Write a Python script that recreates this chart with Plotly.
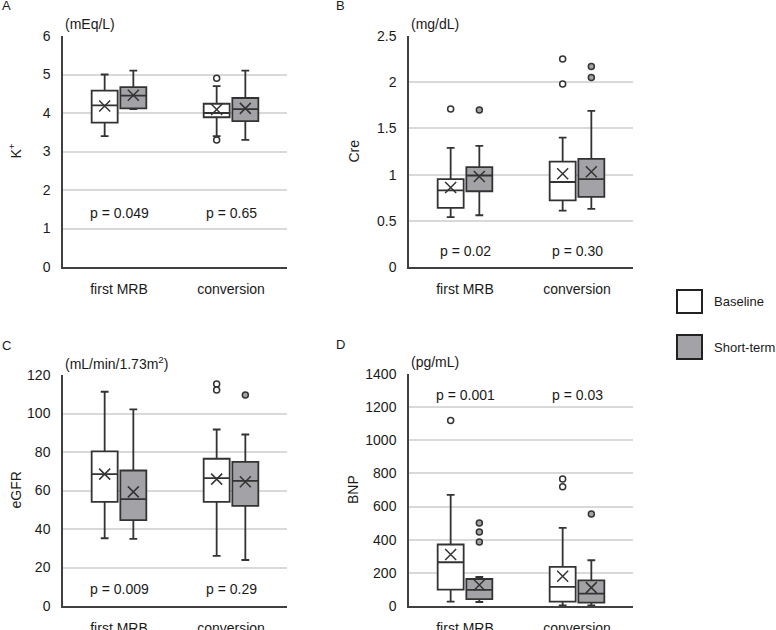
import plotly.graph_objects as go

categories = ["first MRB", "conversion"]
groups = ["Baseline", "Short-term"]

# ---- Panel A: K+ (rows = groups [Baseline, Short-term], cols = categories)
k_lower  = [[3.40, 3.40], [4.10, 3.30]]
k_q1     = [[3.75, 3.89], [4.12, 3.79]]
k_median = [[4.20, 4.00], [4.45, 4.10]]
k_q3     = [[4.58, 4.24], [4.67, 4.39]]
k_upper  = [[5.00, 4.70], [5.10, 5.10]]
k_mean   = [[4.18, 4.09], [4.46, 4.12]]
k_outliers = [[[], [4.9, 3.3]], [[], []]]
k_p = ["p = 0.049", "p = 0.65"]
k_p_y = 1.39

# ---- Panel B: Cre
cre_lower  = [[0.54, 0.61], [0.56, 0.63]]
cre_q1     = [[0.64, 0.72], [0.82, 0.76]]
cre_median = [[0.83, 0.92], [0.99, 0.95]]
cre_q3     = [[0.95, 1.14], [1.08, 1.17]]
cre_upper  = [[1.29, 1.40], [1.31, 1.69]]
cre_mean   = [[0.86, 1.01], [0.98, 1.03]]
cre_outliers = [[[1.71], [2.25, 1.98]], [[1.70], [2.17, 2.05]]]
cre_p = ["p = 0.02", "p = 0.30"]
cre_p_y = 0.17

# ---- Panel C: eGFR
egfr_lower  = [[35.2, 26.0], [34.9, 23.9]]
egfr_q1     = [[54.1, 54.1], [44.6, 52.0]]
egfr_median = [[68.5, 66.4], [55.5, 65.0]]
egfr_q3     = [[80.3, 76.5], [70.4, 74.9]]
egfr_upper  = [[111.3, 91.7], [102.1, 89.1]]
egfr_mean   = [[68.5, 65.9], [59.3, 64.5]]
egfr_outliers = [[[], [115.3, 112.2]], [[], [109.6]]]
egfr_p = ["p = 0.009", "p = 0.29"]
egfr_p_y = 9

# ---- Panel D: BNP
bnp_lower  = [[26, 4], [24, 4]]
bnp_q1     = [[99, 26], [42, 20]]
bnp_median = [[264, 115], [97, 75]]
bnp_q3     = [[371, 236], [163, 155]]
bnp_upper  = [[670, 472], [175, 276]]
bnp_mean   = [[311, 180], [127, 111]]
bnp_outliers = [[[1120], [767, 720]], [[501, 447, 386], [555]]]
bnp_p = ["p = 0.001", "p = 0.03"]
bnp_p_y = 1275

FONT = "Arial, Liberation Sans, sans-serif"
TXT = "#1a1a1a"
EDGE = "#333333"
FILLS = ["#ffffff", "#a3a3a7"]
GRID = "#d9d9d9"
OFFSET = 0.128
BOXW = 0.232

W, H = 776, 630

panels = [
    dict(letter="A", unit="(mEq/L)", title="K<sup>+</sup>", rng=[0, 6], dtick=1,
         lower=k_lower, q1=k_q1, med=k_median, q3=k_q3, upper=k_upper, mean=k_mean,
         out=k_outliers, p=k_p, py=k_p_y, px=(63, 287), py_px=(36, 267)),
    dict(letter="B", unit="(mg/dL)", title="Cre", rng=[0, 2.5], dtick=0.5,
         lower=cre_lower, q1=cre_q1, med=cre_median, q3=cre_q3, upper=cre_upper, mean=cre_mean,
         out=cre_outliers, p=cre_p, py=cre_p_y, px=(409, 633), py_px=(36, 267)),
    dict(letter="C", unit="(mL/min/1.73m<sup>2</sup>)", title="eGFR", rng=[0, 120], dtick=20,
         lower=egfr_lower, q1=egfr_q1, med=egfr_median, q3=egfr_q3, upper=egfr_upper, mean=egfr_mean,
         out=egfr_outliers, p=egfr_p, py=egfr_p_y, px=(63, 287), py_px=(375, 606)),
    dict(letter="D", unit="(pg/mL)", title="BNP", rng=[0, 1400], dtick=200,
         lower=bnp_lower, q1=bnp_q1, med=bnp_median, q3=bnp_q3, upper=bnp_upper, mean=bnp_mean,
         out=bnp_outliers, p=bnp_p, py=bnp_p_y, px=(409, 633), py_px=(374, 606)),
]

fig = go.Figure()
annotations = []
shapes = []
layout_axes = {}

for i, pn in enumerate(panels):
    n = "" if i == 0 else str(i + 1)
    xa, ya = "x" + n, "y" + n
    cat_idx = list(range(len(categories)))
    for g in range(2):
        sign = -1 if g == 0 else 1
        xs = [c + sign * OFFSET for c in cat_idx]
        fig.add_trace(go.Box(
            x=xs, q1=pn["q1"][g], median=pn["med"][g], q3=pn["q3"][g],
            lowerfence=pn["lower"][g], upperfence=pn["upper"][g],
            width=BOXW, whiskerwidth=0.3, boxpoints=False,
            fillcolor=FILLS[g], line=dict(color=EDGE, width=1.8),
            name=groups[g], showlegend=False, hoverinfo="skip",
            xaxis=xa, yaxis=ya))
        fig.add_trace(go.Scatter(
            x=xs, y=pn["mean"][g], mode="markers",
            marker=dict(symbol="x-thin", size=11, line=dict(color=EDGE, width=1.5)),
            showlegend=False, hoverinfo="skip", xaxis=xa, yaxis=ya))
        ox, oy = [], []
        for c in cat_idx:
            for v in pn["out"][g][c]:
                ox.append(c + sign * OFFSET)
                oy.append(v)
        if ox:
            fig.add_trace(go.Scatter(
                x=ox, y=oy, mode="markers",
                marker=dict(symbol="circle", size=6, color=FILLS[g],
                            line=dict(color=EDGE, width=1.5)),
                showlegend=False, hoverinfo="skip", xaxis=xa, yaxis=ya))
    # p-values
    for c in cat_idx:
        annotations.append(dict(x=c, y=pn["py"], xref=xa, yref=ya, text=pn["p"][c],
                                showarrow=False, font=dict(size=14, color=TXT, family=FONT)))
    x0, x1 = pn["px"]
    y0, y1 = pn["py_px"]
    layout_axes["xaxis" + n] = dict(
        domain=[x0 / W, x1 / W], range=[-0.5, 1.5], tickvals=cat_idx, ticktext=categories,
        showgrid=False, zeroline=False, showline=True, linecolor="#404040", linewidth=1.5,
        ticks="", ticklabelstandoff=8, tickfont=dict(size=14, color=TXT, family=FONT),
        anchor=ya, fixedrange=True, automargin=False)
    layout_axes["yaxis" + n] = dict(
        domain=[(H - y1) / H, (H - y0) / H], range=pn["rng"], dtick=pn["dtick"],
        showgrid=True, gridcolor=GRID, gridwidth=1.5, zeroline=False,
        showline=True, linecolor="#404040", linewidth=1.5, ticks="",
        ticklabelstandoff=8, tickfont=dict(size=14, color=TXT, family=FONT),
        anchor=xa, fixedrange=True, automargin=False)
    # unit label, panel letter, axis title
    annotations.append(dict(x=x0 / W, y=(H - 24 - (y0 - 36)) / H, xref="paper", yref="paper",
                            text=pn["unit"], showarrow=False, xanchor="left", yanchor="middle",
                            font=dict(size=14, color=TXT, family=FONT)))
    lx = 6 if x0 < 200 else 340
    annotations.append(dict(x=lx / W, y=(H - 6 - (y0 - 36)) / H, xref="paper", yref="paper",
                            text=pn["letter"], showarrow=False, xanchor="center", yanchor="middle",
                            font=dict(size=13, color=TXT, family=FONT)))
    tx = 15 if x0 < 200 else 353
    annotations.append(dict(x=tx / W, y=(H - (y0 + y1) / 2) / H, xref="paper", yref="paper",
                            text=pn["title"], textangle=-90, showarrow=False,
                            xanchor="center", yanchor="middle",
                            font=dict(size=14, color=TXT, family=FONT)))

# legend (drawn as layout shapes + labels)
legend_rows = [(290, 313), (335, 359)]
for g, (ly0, ly1) in enumerate(legend_rows):
    shapes.append(dict(type="rect", xref="paper", yref="paper",
                       x0=677 / W, x1=702 / W, y0=(H - ly1) / H, y1=(H - ly0) / H,
                       fillcolor=FILLS[g], line=dict(color="#222222", width=2)))
    annotations.append(dict(x=712 / W, y=(H - (ly0 + ly1) / 2) / H, xref="paper", yref="paper",
                            text=groups[g], showarrow=False, xanchor="left", yanchor="middle",
                            font=dict(size=13, color=TXT, family=FONT)))

fig.update_layout(
    width=W, height=H, margin=dict(l=0, r=0, t=0, b=0, autoexpand=False),
    paper_bgcolor="white", plot_bgcolor="white",
    font=dict(family=FONT, color=TXT),
    annotations=annotations, shapes=shapes, showlegend=False,
    **layout_axes)

fig.write_html("out.html", config={"displayModeBar": False},
               post_script="document.body.style.margin='0';document.body.style.overflow='hidden';")
